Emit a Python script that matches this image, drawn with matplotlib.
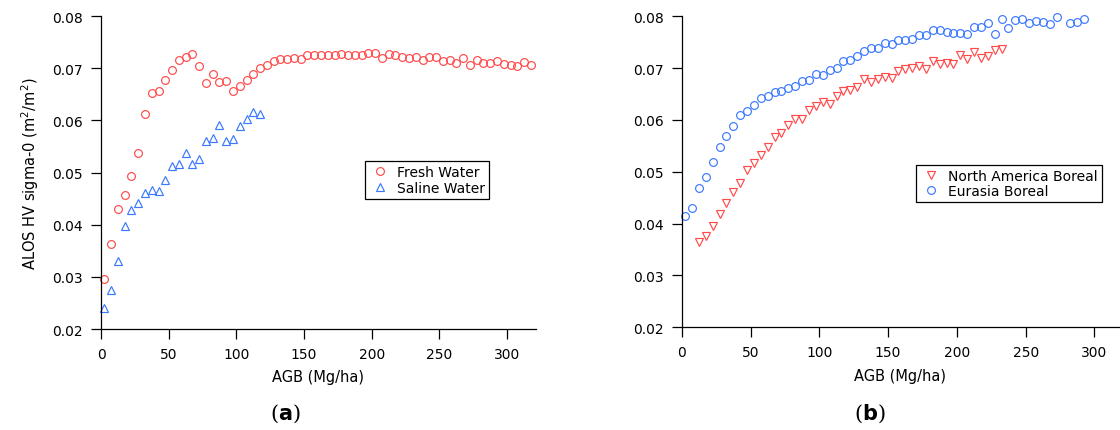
import matplotlib
matplotlib.use('Agg')
import matplotlib.pyplot as plt
from matplotlib.ticker import FormatStrFormatter

plt.rcParams['font.family'] = ['DejaVu Sans']

# panel (a): wetland forests
fresh_agb = [2.5, 7.5, 12.5, 17.5, 22.5, 27.5, 32.5, 37.5, 42.5, 47.5,
             52.5, 57.5, 62.5, 67.5, 72.5, 77.5, 82.5, 87.5, 92.5, 97.5,
             102.5, 107.5, 112.5, 117.5, 122.5, 127.5, 132.5, 137.5, 142.5, 147.5,
             152.5, 157.5, 162.5, 167.5, 172.5, 177.5, 182.5, 187.5, 192.5, 197.5,
             202.5, 207.5, 212.5, 217.5, 222.5, 227.5, 232.5, 237.5, 242.5, 247.5,
             252.5, 257.5, 262.5, 267.5, 272.5, 277.5, 282.5, 287.5, 292.5, 297.5,
             302.5, 307.5, 312.5, 317.5]
fresh_hv = [0.0295, 0.0363, 0.0430, 0.0457, 0.0494, 0.0538, 0.0613, 0.0652, 0.0657, 0.0678,
            0.0696, 0.0716, 0.0721, 0.0727, 0.0705, 0.0672, 0.0689, 0.0674, 0.0675, 0.0656,
            0.0666, 0.0677, 0.0689, 0.0701, 0.0707, 0.0714, 0.0717, 0.0717, 0.0719, 0.0718,
            0.0725, 0.0725, 0.0725, 0.0725, 0.0726, 0.0727, 0.0726, 0.0726, 0.0725, 0.0730,
            0.0730, 0.0720, 0.0727, 0.0725, 0.0721, 0.0720, 0.0721, 0.0716, 0.0721, 0.0721,
            0.0714, 0.0716, 0.0710, 0.0720, 0.0707, 0.0715, 0.0711, 0.0710, 0.0714, 0.0708,
            0.0706, 0.0704, 0.0712, 0.0707]

saline_agb = [2.5, 7.5, 12.5, 17.5, 22.5, 27.5, 32.5, 37.5, 42.5, 47.5,
              52.5, 57.5, 62.5, 67.5, 72.5, 77.5, 82.5, 87.5, 92.5, 97.5,
              102.5, 107.5, 112.5, 117.5]
saline_hv = [0.0240, 0.0274, 0.0331, 0.0398, 0.0428, 0.0442, 0.0460, 0.0467, 0.0465, 0.0485,
             0.0513, 0.0517, 0.0537, 0.0517, 0.0526, 0.0561, 0.0567, 0.0592, 0.0561, 0.0564,
             0.0590, 0.0603, 0.0617, 0.0612]

# panel (b): boreal forests
na_agb = [12.5, 17.5, 22.5, 27.5, 32.5, 37.5, 42.5, 47.5, 52.5, 57.5,
          62.5, 67.5, 72.5, 77.5, 82.5, 87.5, 92.5, 97.5, 102.5, 107.5,
          112.5, 117.5, 122.5, 127.5, 132.5, 137.5, 142.5, 147.5, 152.5, 157.5,
          162.5, 167.5, 172.5, 177.5, 182.5, 187.5, 192.5, 197.5, 202.5, 207.5,
          212.5, 217.5, 222.5, 227.5, 232.5]
na_hv = [0.0364, 0.0376, 0.0396, 0.0418, 0.0440, 0.0461, 0.0478, 0.0504, 0.0517, 0.0533,
         0.0547, 0.0568, 0.0575, 0.0591, 0.0601, 0.0602, 0.0620, 0.0627, 0.0634, 0.0631,
         0.0646, 0.0655, 0.0657, 0.0664, 0.0679, 0.0674, 0.0679, 0.0682, 0.0681, 0.0694,
         0.0698, 0.0700, 0.0704, 0.0699, 0.0714, 0.0708, 0.0710, 0.0708, 0.0726, 0.0717,
         0.0731, 0.0719, 0.0724, 0.0734, 0.0737]

eu_agb = [2.5, 7.5, 12.5, 17.5, 22.5, 27.5, 32.5, 37.5, 42.5, 47.5,
          52.5, 57.5, 62.5, 67.5, 72.5, 77.5, 82.5, 87.5, 92.5, 97.5,
          102.5, 107.5, 112.5, 117.5, 122.5, 127.5, 132.5, 137.5, 142.5, 147.5,
          152.5, 157.5, 162.5, 167.5, 172.5, 177.5, 182.5, 187.5, 192.5, 197.5,
          202.5, 207.5, 212.5, 217.5, 222.5, 227.5, 232.5, 237.5, 242.5, 247.5,
          252.5, 257.5, 262.5, 267.5, 272.5, 282.5, 287.5, 292.5]
eu_hv = [0.0415, 0.0431, 0.0468, 0.0490, 0.0519, 0.0547, 0.0569, 0.0589, 0.0609, 0.0618,
         0.0629, 0.0642, 0.0647, 0.0653, 0.0656, 0.0661, 0.0665, 0.0675, 0.0678, 0.0688,
         0.0686, 0.0696, 0.0700, 0.0714, 0.0715, 0.0723, 0.0733, 0.0739, 0.0739, 0.0748,
         0.0746, 0.0755, 0.0755, 0.0756, 0.0763, 0.0764, 0.0773, 0.0773, 0.0769, 0.0767,
         0.0768, 0.0765, 0.0780, 0.0780, 0.0788, 0.0765, 0.0794, 0.0778, 0.0792, 0.0794,
         0.0787, 0.0791, 0.0789, 0.0785, 0.0798, 0.0788, 0.0789, 0.0794]

red = '#ff4a4a'
blue = '#3a78ff'
mk = dict(linestyle='none', markerfacecolor='none', markersize=5.6,
          markeredgewidth=0.85, clip_on=False)

fig = plt.figure(figsize=(11.2, 4.31), dpi=100)
ax1 = fig.add_axes([0.0902, 0.2343, 0.388, 0.726])
ax2 = fig.add_axes([0.6087, 0.2383, 0.390, 0.7216])

ax1.plot(fresh_agb, fresh_hv, marker='o', color=red, label='Fresh Water', **mk)
ax1.plot(saline_agb, saline_hv, marker='^', color=blue, label='Saline Water', **mk)
ax1.set_xlim(0, 321)

ax2.plot(na_agb, na_hv, marker='v', color=red, label='North America Boreal', **mk)
ax2.plot(eu_agb, eu_hv, marker='o', color=blue, label='Eurasia Boreal', **mk)
ax2.set_xlim(0, 317.5)

for ax in (ax1, ax2):
    ax.set_ylim(0.02, 0.08)
    ax.set_xticks([0, 50, 100, 150, 200, 250, 300])
    ax.set_yticks([0.02, 0.03, 0.04, 0.05, 0.06, 0.07, 0.08])
    ax.yaxis.set_major_formatter(FormatStrFormatter('%.2f'))
    ax.spines['top'].set_visible(False)
    ax.spines['right'].set_visible(False)
    ax.spines['left'].set_linewidth(0.9)
    ax.spines['bottom'].set_linewidth(0.9)
    ax.tick_params(direction='out', length=7, width=0.9, labelsize=10, pad=6)
    ax.set_xlabel('AGB (Mg/ha)', fontsize=10.5, labelpad=6)

ax1.set_ylabel('ALOS HV sigma-0 (m$^2$/m$^2$)', fontsize=10.5, labelpad=8)

leg1 = ax1.legend(loc='upper left', bbox_to_anchor=(0.607, 0.537), borderaxespad=0,
                  fontsize=10, fancybox=False, framealpha=1, edgecolor='black',
                  handletextpad=0.4, borderpad=0.3, labelspacing=0.1, handlelength=1.6)
leg1.get_frame().set_linewidth(0.9)
leg2 = ax2.legend(loc='upper left', bbox_to_anchor=(0.536, 0.523), borderaxespad=0,
                  fontsize=10, fancybox=False, framealpha=1, edgecolor='black',
                  handletextpad=0.4, borderpad=0.3, labelspacing=0.1, handlelength=1.6)
leg2.get_frame().set_linewidth(0.9)

fig.text(0.2545, 0.025, r'($\mathbf{a}$)', ha='center', fontsize=15, family='DejaVu Serif')
fig.text(0.777, 0.025, r'($\mathbf{b}$)', ha='center', fontsize=15, family='DejaVu Serif')

fig.savefig('out.png', dpi=100)
